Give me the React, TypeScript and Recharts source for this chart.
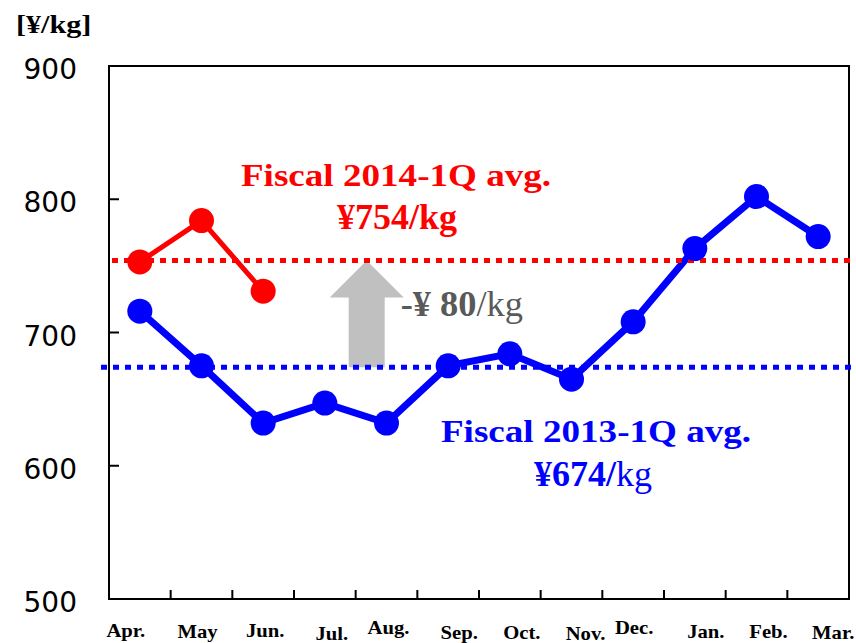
import React from 'react';
import { LineChart, Line, XAxis, YAxis, ReferenceLine, ReferenceArea } from 'recharts';

// Monthly unit price, fiscal year April -> March
const months = ['Apr.', 'May', 'Jun.', 'Jul.', 'Aug.', 'Sep.', 'Oct.', 'Nov.', 'Dec.', 'Jan.', 'Feb.', 'Mar.'];
const fy2013 = [716, 675, 632, 647, 632, 675, 684, 665, 708, 763, 802, 772];
const fy2014: (number | null)[] = [753, 784, 731, null, null, null, null, null, null, null, null, null];
const avg2013 = 674;
const avg2014 = 754;
const yTicks = [500, 600, 700, 800, 900];
const unitLabel = '[¥/kg]';

const data = months.map((m, i) => ({ month: m, fy2013: fy2013[i], fy2014: fy2014[i] }));

// plot geometry
const W = 856;
const H = 643;
const MARGIN = { top: 66, right: 7, bottom: 0, left: 0 };
const Y_AXIS_W = 109;
const X_AXIS_H = 44;
const PLOT_W = W - MARGIN.left - MARGIN.right - Y_AXIS_W;
const BAND = PLOT_W / months.length;

const SERIF = "'Liberation Serif', 'Times New Roman', serif";
const SANS = "'DejaVu Sans', sans-serif";
const RED = '#ff0000';
const BLUE = '#0000ff';

// month labels sit a little off-center under each band, as typeset
const tickShift = [-14, -4, 2, 7, 2, 11, 12, 14, 1, 11, 12, 15];
const tickDrop = [38, 39, 38, 41, 35, 40, 40, 41, 35, 39, 39, 40];

function MonthTick(props: any) {
  const { x, y, payload, index } = props;
  const bx = x - BAND / 2;
  return (
    <g>
      {index > 0 && <line x1={bx} x2={bx} y1={y} y2={y - 9} stroke="#000" strokeWidth={2} />}
      <text
        transform={`translate(${x + tickShift[index]} ${y + tickDrop[index]}) scale(1.15 1)`}
        textAnchor="middle"
        fontFamily={SERIF}
        fontWeight="bold"
        fontSize={18}
        fill="#000"
      >
        {payload.value}
      </text>
    </g>
  );
}

function PriceTick(props: any) {
  const { x, y, payload } = props;
  return (
    <g>
      <line x1={x} x2={x + 10} y1={y} y2={y} stroke="#000" strokeWidth={2} />
      <text x={x - 32} y={y + 13} textAnchor="end" fontFamily={SANS} fontSize={28} fill="#000">
        {payload.value}
      </text>
    </g>
  );
}

function UnitLabel(props: any) {
  const vb = props.viewBox || { x: 0, y: MARGIN.top };
  return (
    <text
      transform={`translate(${vb.x + 16} ${vb.y - 33}) scale(1.16 1)`}
      fontFamily={SERIF}
      fontWeight="bold"
      fontSize={26}
      fill="#000"
    >
      {unitLabel}
    </text>
  );
}

function Note2014(props: any) {
  const vb = props.viewBox || { x: 0, y: 0 };
  return (
    <g fill={RED} fontFamily={SERIF} fontWeight="bold">
      <text transform={`translate(${vb.x + 287} ${vb.y - 75}) scale(1.16 1)`} textAnchor="middle" fontSize={32}>
        Fiscal 2014-1Q avg.
      </text>
      <text x={vb.x + 288} y={vb.y - 32} textAnchor="middle" fontSize={36}>
        {`¥${avg2014}/kg`}
      </text>
    </g>
  );
}

function Note2013(props: any) {
  const vb = props.viewBox || { x: 0, y: 0 };
  return (
    <g fill={BLUE} fontFamily={SERIF}>
      <text
        transform={`translate(${vb.x + 487} ${vb.y + 75}) scale(1.16 1)`}
        textAnchor="middle"
        fontSize={32}
        fontWeight="bold"
      >
        Fiscal 2013-1Q avg.
      </text>
      <text x={vb.x + 484} y={vb.y + 119} textAnchor="middle" fontSize={36}>
        <tspan fontWeight="bold">{`¥${avg2013}/`}</tspan>
        <tspan fontWeight="normal">kg</tspan>
      </text>
    </g>
  );
}

// upward arrow spanning the gap between the two averages
function GapArrow(props: any) {
  const { x, y, height } = props;
  const cx = x + 257.7;
  const top = y;
  const bottom = y + height;
  const headH = 37;
  const headW = 37;
  const shaftW = 18;
  const pts = [
    [cx, top],
    [cx + headW, top + headH],
    [cx + shaftW, top + headH],
    [cx + shaftW, bottom],
    [cx - shaftW, bottom],
    [cx - shaftW, top + headH],
    [cx - headW, top + headH],
  ]
    .map((p) => p.join(','))
    .join(' ');
  return (
    <g>
      <polygon points={pts} fill="#c0c0c0" />
      <text
        transform={`translate(${cx + 34} ${bottom - 51}) scale(1.04 1)`}
        fontFamily={SERIF}
        fontSize={35}
        fill="#595959"
      >
        <tspan fontWeight="bold">{`-¥ ${avg2014 - avg2013}`}</tspan>
        <tspan fontWeight="normal">/kg</tspan>
      </text>
    </g>
  );
}

const dottedLine = (color: string, dxStart: number, dxEnd: number) => (p: any) => (
  <line
    x1={p.x1 + dxStart}
    x2={p.x2 + dxEnd}
    y1={p.y1}
    y2={p.y2}
    stroke={color}
    strokeWidth={5}
    strokeDasharray="6 6"
  />
);

export default function App() {
  return (
    <div style={{ position: 'absolute', left: 0, top: 0, width: W, height: H, overflow: 'hidden' }}>
      <LineChart width={W} height={H} data={data} margin={MARGIN}>
        <XAxis
          dataKey="month"
          scale="band"
          interval={0}
          height={X_AXIS_H}
          axisLine={false}
          tickLine={false}
          tickSize={0}
          tickMargin={0}
          tick={<MonthTick />}
        />
        <YAxis
          domain={[500, 900]}
          ticks={yTicks}
          width={Y_AXIS_W}
          axisLine={false}
          tickLine={false}
          tickSize={0}
          tickMargin={0}
          tick={<PriceTick />}
          label={<UnitLabel />}
        />
        <ReferenceArea y1={avg2013} y2={avg2014} ifOverflow="visible" shape={<GapArrow />} />
        <Line
          dataKey="fy2013"
          stroke={BLUE}
          strokeWidth={7}
          dot={{ r: 12.5, fill: BLUE, stroke: BLUE, strokeWidth: 0 }}
          isAnimationActive={false}
        />
        <Line
          dataKey="fy2014"
          stroke={RED}
          strokeWidth={5}
          dot={{ r: 12.5, fill: RED, stroke: RED, strokeWidth: 0 }}
          isAnimationActive={false}
        />
        <ReferenceLine
          y={avg2014}
          stroke={RED}
          ifOverflow="visible"
          shape={dottedLine(RED, 3, 3)}
          label={<Note2014 />}
        />
        <ReferenceLine
          y={avg2013}
          stroke={BLUE}
          ifOverflow="visible"
          shape={dottedLine(BLUE, -8, 3)}
          label={<Note2013 />}
        />
        <ReferenceArea y1={500} y2={900} ifOverflow="visible" fill="none" fillOpacity={0} stroke="#000" strokeWidth={2} />
      </LineChart>
    </div>
  );
}
